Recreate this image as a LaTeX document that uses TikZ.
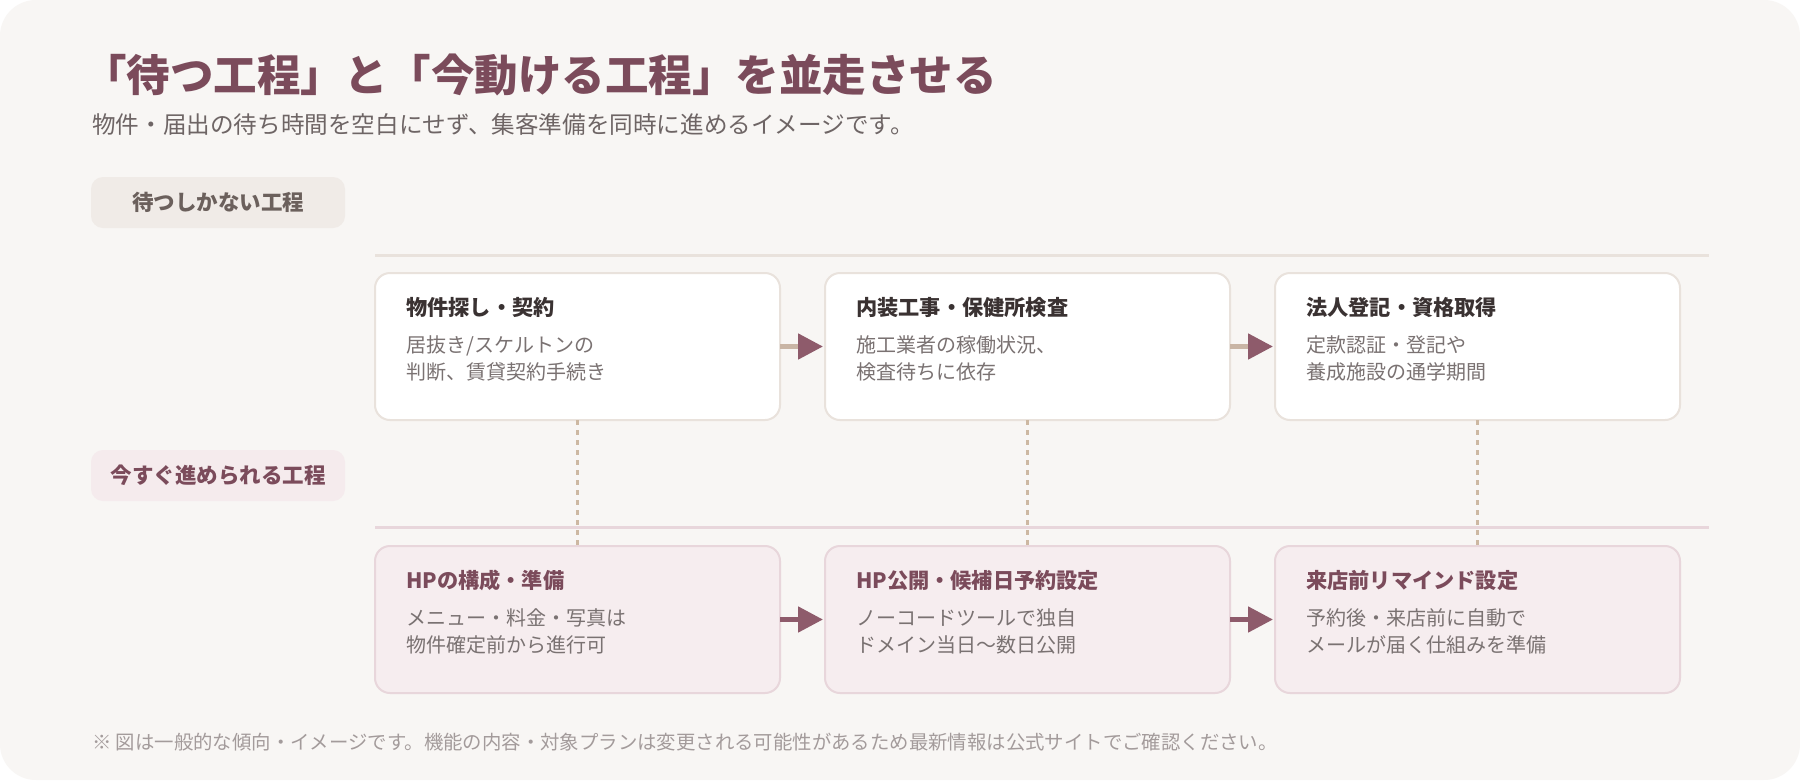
\documentclass[tikz,border=0pt]{standalone}
\usepackage{fontspec}
\setmainfont{Noto Sans CJK JP}
\usepackage{xcolor}
\usetikzlibrary{arrows.meta, positioning}

\definecolor{bgcol}{HTML}{F8F6F4}
\definecolor{mauve}{HTML}{7B4B5B}
\definecolor{subcol}{HTML}{6E6565}
\definecolor{waitpill}{HTML}{F0EBE7}
\definecolor{waittext}{HTML}{6B605C}
\definecolor{nowpill}{HTML}{F5EBED}
\definecolor{waitline}{HTML}{E9E2DC}
\definecolor{nowline}{HTML}{E8D6DB}
\definecolor{nowfill}{HTML}{F6EDEF}
\definecolor{darktext}{HTML}{3A3232}
\definecolor{desccol}{HTML}{7A7272}
\definecolor{arrowtan}{HTML}{C9B5A5}
\definecolor{arrowmauve}{HTML}{8E5B6B}
\definecolor{dotcol}{HTML}{CDB8A2}
\definecolor{notecol}{HTML}{A39B9B}

\begin{document}
\begin{tikzpicture}[
    x=1pt, y=-1pt,
    % Define simple, standard styles
    waitbox/.style={rectangle, draw=waitline, line width=2pt, fill=white, rounded corners=15pt, minimum width=405pt, minimum height=147pt, inner sep=0pt, outer sep=0pt},
    nowbox/.style={rectangle, draw=nowline, line width=2pt, fill=nowfill, rounded corners=15pt, minimum width=405pt, minimum height=147pt, inner sep=0pt, outer sep=0pt},
    lane/.style={rectangle, rounded corners=12pt, minimum width=254pt, minimum height=51pt, font=\fontsize{21.5}{25}\selectfont\bfseries},
    boxtitle/.style={anchor=west, inner sep=0pt, font=\fontsize{21.2}{25}\selectfont\bfseries},
    boxtext/.style={anchor=north west, inner sep=0pt, align=left, text=desccol, font=\fontsize{20}{27.5}\selectfont},
    waitarrow/.style={line width=5pt, draw=arrowtan, -{Triangle[length=25pt, width=25pt, color=arrowmauve]}, shorten >=2pt},
    nowarrow/.style={line width=5pt, draw=arrowmauve, -{Triangle[length=25pt, width=25pt, color=arrowmauve]}, shorten >=2pt},
    link/.style={draw=dotcol, line width=2.5pt, dash pattern=on 5pt off 5pt},
    laneline/.style={line width=3pt}
]

% 0. Background card
\useasboundingbox (0,0) rectangle (1800,780);
\fill[white] (0,0) rectangle (1800,780);
\fill[bgcol, rounded corners=36pt] (0,0) rectangle (1800,780);

% 1. Heading
\node[anchor=west, inner sep=0pt, text=mauve, font=\fontsize{43.5}{50}\selectfont\bfseries] (title) at (83,75) {「待つ工程」と「今動ける工程」を並走させる};
\node[anchor=west, inner sep=0pt, text=subcol, font=\fontsize{23.6}{28}\selectfont] (subtitle) at (92,124) {物件・届出の待ち時間を空白にせず、集客準備を同時に進めるイメージです。};

% 2. Lane labels and lane lines
\node[lane, fill=waitpill, text=waittext] (lwait) at (218,202.5) {待つしかない工程};
\node[lane, fill=nowpill, text=mauve] (lnow) at (218,475.5) {今すぐ進められる工程};

\coordinate (waitl) at (375,255);
\coordinate (waitr) at (1709,255);
\coordinate (nowl) at (375,527);
\coordinate (nowr) at (1709,527);
\draw[laneline, waitline] (waitl) -- (waitr);
\draw[laneline, nowline] (nowl) -- (nowr);

% 3. Waiting steps (top row)
\node[waitbox] (w1) at (577.5,346.5) {};
\node[waitbox, right=45pt of w1] (w2) {};
\node[waitbox, right=45pt of w2] (w3) {};

\node[boxtitle, text=darktext] (w1t) at ([xshift=31pt, yshift=-34pt]w1.north west) {物件探し・契約};
\node[boxtext] (w1d) at ([xshift=31pt, yshift=-62pt]w1.north west) {居抜き/スケルトンの\\判断、賃貸契約手続き};
\node[boxtitle, text=darktext] (w2t) at ([xshift=31pt, yshift=-34pt]w2.north west) {内装工事・保健所検査};
\node[boxtext] (w2d) at ([xshift=31pt, yshift=-62pt]w2.north west) {施工業者の稼働状況、\\検査待ちに依存};
\node[boxtitle, text=darktext] (w3t) at ([xshift=31pt, yshift=-34pt]w3.north west) {法人登記・資格取得};
\node[boxtext] (w3d) at ([xshift=31pt, yshift=-62pt]w3.north west) {定款認証・登記や\\養成施設の通学期間};

% 4. Steps that can start now (bottom row)
\node[nowbox] (n1) at (577.5,619.5) {};
\node[nowbox, right=45pt of n1] (n2) {};
\node[nowbox, right=45pt of n2] (n3) {};

\node[boxtitle, text=mauve] (n1t) at ([xshift=31pt, yshift=-34pt]n1.north west) {HPの構成・準備};
\node[boxtext] (n1d) at ([xshift=31pt, yshift=-62pt]n1.north west) {メニュー・料金・写真は\\物件確定前から進行可};
\node[boxtitle, text=mauve] (n2t) at ([xshift=31pt, yshift=-34pt]n2.north west) {HP公開・候補日予約設定};
\node[boxtext] (n2d) at ([xshift=31pt, yshift=-62pt]n2.north west) {ノーコードツールで独自\\ドメイン当日〜数日公開};
\node[boxtitle, text=mauve] (n3t) at ([xshift=31pt, yshift=-34pt]n3.north west) {来店前リマインド設定};
\node[boxtext] (n3d) at ([xshift=31pt, yshift=-62pt]n3.north west) {予約後・来店前に自動で\\メールが届く仕組みを準備};

% Draw the connecting arrows
\draw[waitarrow] (w1) -- (w2);
\draw[waitarrow] (w2) -- (w3);
\draw[nowarrow] (n1) -- (n2);
\draw[nowarrow] (n2) -- (n3);

% Dotted links between the rows
\draw[link] (w1.south) -- (n1.north);
\draw[link] (w2.south) -- (n2.north);
\draw[link] (w3.south) -- (n3.north);

% 5. Footnote
\node[anchor=west, inner sep=0pt, text=notecol, font=\fontsize{19.4}{23}\selectfont] (note) at (92,742) {※ 図は一般的な傾向・イメージです。機能の内容・対象プランは変更される可能性があるため最新情報は公式サイトでご確認ください。};

\end{tikzpicture}
\end{document}
